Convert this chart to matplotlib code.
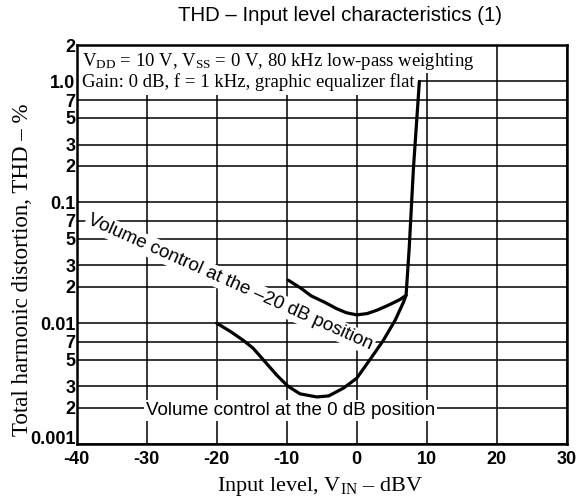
import matplotlib
matplotlib.use("Agg")
import matplotlib.pyplot as plt
from matplotlib.patches import Rectangle

# THD vs input level, volume control at 0 dB and -20 dB
vol0_x = [-20, -18, -16.2, -14.8, -12.9, -11.4, -9.8, -8.1, -5.7, -4.0, -1.9,
          0.0, 1.9, 3.8, 5.5, 6.7, 7.05, 7.5, 8.1, 8.95]
vol0_y = [0.0100, 0.0085, 0.0072, 0.0062, 0.00465, 0.0037, 0.0030, 0.0026,
          0.00245, 0.0025, 0.0029, 0.0035, 0.0050, 0.0072, 0.0106, 0.0150,
          0.0170, 0.042, 0.19, 1.0]

vol20_x = [-9.8, -8.0, -6.5, -4.5, -2.9, -1.5, 0.0, 1.5, 2.9, 4.2, 5.2, 6.2, 7.05]
vol20_y = [0.0227, 0.0195, 0.0168, 0.0148, 0.0132, 0.0122, 0.0117, 0.0120,
           0.0128, 0.0138, 0.0147, 0.0157, 0.0170]

x_ticks = [-40, -30, -20, -10, 0, 10, 20, 30]
y_ticks = [0.001, 0.002, 0.003, 0.005, 0.007,
           0.01, 0.02, 0.03, 0.05, 0.07,
           0.1, 0.2, 0.3, 0.5, 0.7,
           1.0, 2.0]
y_labels = ["0.001", "2", "3", "5", "7",
            "0.01", "2", "3", "5", "7",
            "0.1", "2", "3", "5", "7",
            "1.0", "2"]

plt.rcParams["axes.unicode_minus"] = False
plt.rcParams["mathtext.fontset"] = "custom"
plt.rcParams["mathtext.rm"] = "Liberation Serif"
plt.rcParams["mathtext.it"] = "Liberation Serif:italic"

sans = "Liberation Sans"
serif = "Liberation Serif"

fig = plt.figure(figsize=(5.79, 4.99), dpi=100, facecolor="white")
ax = fig.add_axes([0.1325, 0.1102, 0.8463, 0.7996])

ax.set_yscale("log")
ax.set_xlim(-40, 30)
ax.set_ylim(0.001, 2)

ax.set_xticks(x_ticks)
ax.set_xticklabels([str(v) for v in x_ticks], fontfamily=sans,
                   fontweight="bold", fontsize=13)
ax.yaxis.set_minor_locator(matplotlib.ticker.NullLocator())
ax.set_yticks(y_ticks)
# bottom label is drawn separately, lifted clear of the x tick labels
ax.set_yticklabels([""] + y_labels[1:], fontfamily=sans, fontweight="bold",
                   fontsize=13)
ax.annotate(y_labels[0], xy=(0, y_ticks[0]), xycoords=("axes fraction", "data"),
            xytext=(-1, 3.5), textcoords="offset points", ha="right",
            va="center", fontfamily=sans, fontweight="bold", fontsize=13,
            annotation_clip=False)
ax.tick_params(axis="both", length=0)
ax.tick_params(axis="x", pad=5)
ax.tick_params(axis="y", pad=1)

ax.set_axisbelow(True)
ax.grid(True, color="black", linewidth=1.1)
for sp in ax.spines.values():
    sp.set_linewidth(1.8)

# white area behind the conditions note
ax.add_patch(Rectangle((-40, 1.17), 57.3, 2 - 1.17, facecolor="white",
                       edgecolor="none", zorder=2.5))
ax.add_patch(Rectangle((-40, 0.77), 48.76, 1.17 - 0.77, facecolor="white",
                       edgecolor="none", zorder=2.5))
ax.text(0.010, 0.958, "V$_{\\mathrm{DD}}$ = 10 V, V$_{\\mathrm{SS}}$ = 0 V, "
        "80 kHz low-pass weighting", transform=ax.transAxes,
        fontfamily=serif, fontsize=13.5, va="center", ha="left", zorder=3)
ax.text(0.010, 0.908, "Gain: 0 dB, f = 1 kHz, graphic equalizer flat",
        transform=ax.transAxes, fontfamily=serif, fontsize=13.5,
        va="center", ha="left", zorder=3)

ax.plot(vol0_x, vol0_y, color="black", linewidth=2.3, zorder=4,
        solid_joinstyle="round", solid_capstyle="round")
ax.plot(vol20_x, vol20_y, color="black", linewidth=2.3, zorder=4,
        solid_joinstyle="round", solid_capstyle="round")

ax.text(-18.1, 0.0217, "Volume control at the \u201320 dB position",
        rotation=-24, rotation_mode="anchor", ha="center", va="center",
        fontfamily=sans, fontsize=13.5, zorder=3,
        bbox=dict(facecolor="white", edgecolor="none", pad=1.5))
ax.text(-9.5, 0.0019, "Volume control at the 0 dB position",
        ha="center", va="center", fontfamily=sans, fontsize=13.5, zorder=3,
        bbox=dict(facecolor="white", edgecolor="none", pad=1.5))

fig.text(0.587, 0.969, "THD \u2013 Input level characteristics (1)",
         ha="center", va="center", fontfamily=sans, fontsize=14.7)
fig.text(0.553, 0.026, "Input level, V$_{\\mathrm{IN}}$ \u2013 dBV",
         ha="center", va="center", fontfamily=serif, fontsize=16)
fig.text(0.038, 0.459, "Total harmonic distortion, THD \u2013 %",
         ha="center", va="center", rotation=90, fontfamily=serif, fontsize=16.5)

fig.savefig("out.png", dpi=100, facecolor="white")
